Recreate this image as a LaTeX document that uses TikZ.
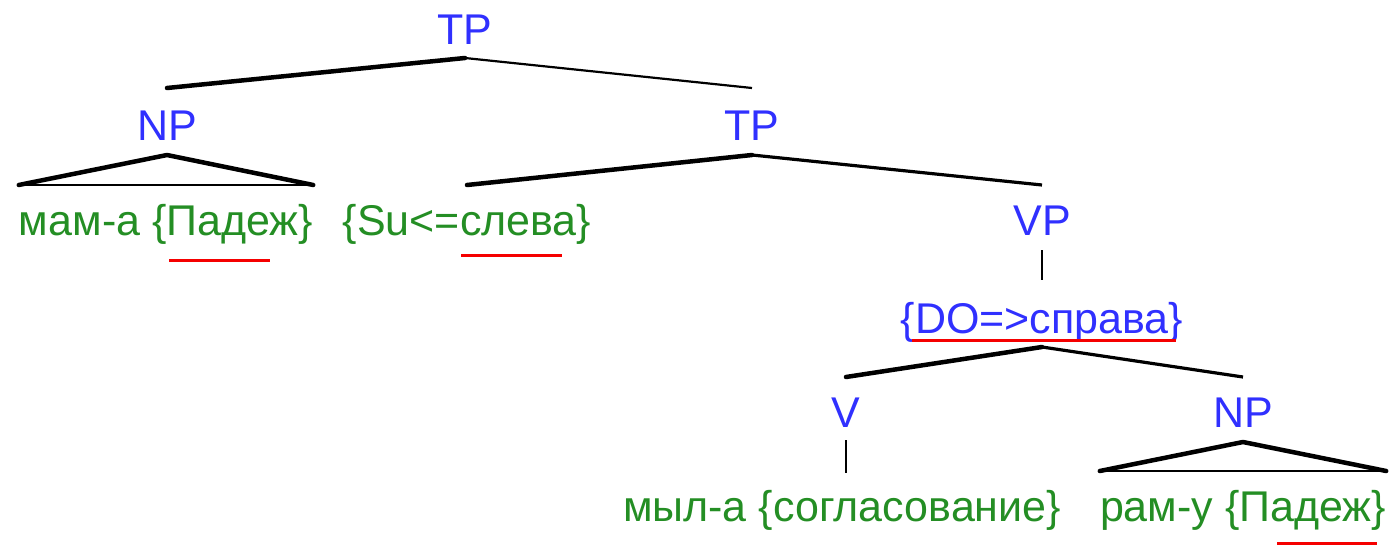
\documentclass[tikz,border=0pt]{standalone}
\usepackage{fontspec}
\setmainfont{Liberation Sans}
\definecolor{catblue}{RGB}{48,48,255}
\definecolor{leafgreen}{RGB}{36,142,36}
\definecolor{markred}{RGB}{245,0,0}
\begin{document}
\begin{tikzpicture}[x=1pt,y=-1pt,
  every node/.style={inner sep=0pt,anchor=base,font=\fontsize{43}{50}\selectfont},
  cat/.style={text=catblue},
  leaf/.style={text=leafgreen},
  heavy/.style={line width=4.5pt,line cap=round,line join=round},
  light/.style={line width=2.2pt},
  medium/.style={line width=3.2pt},
  redline/.style={draw=markred,line width=3pt}]
\useasboundingbox (0,0) rectangle (1391,546);

% labels
\node[cat]  (tp)   at (465,44)  {TP};
\node[cat]  (np1)  at (167,140) {NP};
\node[cat]  (tp2)  at (752,140) {TP};
\node[leaf] (mama) at (166,235) {мам-а \{Падеж\}};
\node[leaf] (su)   at (467,235) {\{Su<=слева\}};
\node[cat]  (vp)   at (1042,235) {VP};
\node[cat]  (do)   at (1042,333) {\{DO=>справа\}};
\node[cat]  (v)    at (846,427) {V};
\node[cat]  (np2)  at (1243,427) {NP};
\node[leaf] (myla) at (842,521) {мыл-а \{согласование\}};
\node[leaf] (ramu) at (1243,521) {рам-у \{Падеж\}};

% branches
\draw[heavy] ([yshift=-14pt]tp.base) -- ([yshift=52pt]np1.base);
\draw[light] ([yshift=-14pt]tp.base) -- ([yshift=52pt]tp2.base);
\draw[heavy] ([yshift=-15pt]tp2.base) -- ([yshift=50pt]su.base);
\draw[medium] ([yshift=-15pt]tp2.base) -- ([yshift=50pt]vp.base);
\draw[light] ([yshift=-15pt]vp.base) -- ([yshift=53pt]do.base);
\draw[heavy] ([yshift=-14pt]do.base) -- ([yshift=50pt]v.base);
\draw[medium] ([yshift=-14pt]do.base) -- ([yshift=50pt]np2.base);
\draw[light] ([yshift=-13pt]v.base) -- ([yshift=48pt]v.base |- myla.base);

% roof triangles
\draw[heavy] (mama.base west |- 0,185) -- ([yshift=-15pt]np1.base) -- (mama.base east |- 0,185);
\draw[light] (mama.base west |- 0,185) -- (mama.base east |- 0,185);
\draw[heavy] (ramu.base west |- 0,471) -- ([yshift=-15pt]np2.base) -- (ramu.base east |- 0,471);
\draw[light] (ramu.base west |- 0,471) -- (ramu.base east |- 0,471);

% red underlines
\draw[redline] (169,260) -- (270,260);
\draw[redline] (461,255) -- (562,255);
\draw[redline] (912,340) -- (1176,340);
\draw[redline] (1277,543) -- (1377,543);
\end{tikzpicture}
\end{document}
